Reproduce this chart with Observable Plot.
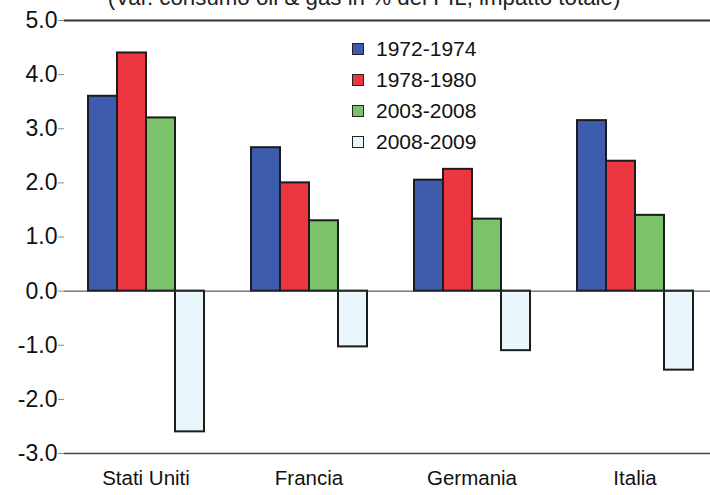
<!DOCTYPE html>
<html>
<head>
<meta charset="utf-8">
<script src="https://cdn.jsdelivr.net/npm/d3@7"></script>
<script src="https://cdn.jsdelivr.net/npm/@observablehq/plot@0.6"></script>
<style>
  html, body { margin: 0; padding: 0; background: #fff; }
  body { width: 710px; height: 495px; overflow: hidden; position: relative;
         font-family: "Liberation Sans", Arial, sans-serif; }
  #title { position: absolute; left: 9px; top: -13px; width: 710px; text-align: center;
           font-size: 22.3px; line-height: 22px; color: #222; white-space: nowrap; }
  #legend { position: absolute; left: 352px; top: 33px; font-size: 21px; color: #111; }
  #legend .item { height: 31px; display: flex; align-items: center; }
  #legend .sw { width: 10px; height: 10px; border: 1.5px solid #222; margin-right: 12px; }
  #chart { position: absolute; left: 0; top: 0; width: 720px; }
  #chart svg { max-width: none; }
</style>
</head>
<body>
<div id="chart"></div>
<div id="title">(Var. consumo oil &amp; gas in % del PIL, impatto totale)</div>
<div id="legend"></div>
<script>
// Paesi e periodi
const countries = ["Stati Uniti", "Francia", "Germania", "Italia"];
const periods = ["1972-1974", "1978-1980", "2003-2008", "2008-2009"];

// Valori per periodo (uno per paese, nell'ordine di countries)
const v1972_1974 = [3.6, 2.65, 2.05, 3.15];
const v1978_1980 = [4.4, 2.0, 2.25, 2.4];
const v2003_2008 = [3.2, 1.3, 1.33, 1.4];
const v2008_2009 = [-2.6, -1.03, -1.1, -1.46];

// Tacche dell'asse y
const yTicks = [-3, -2, -1, 0, 1, 2, 3, 4, 5];

const colors = ["#3d5cae", "#ec3641", "#7bc36a", "#e9f6fc"];

const series = [v1972_1974, v1978_1980, v2003_2008, v2008_2009];
const rows = [];
countries.forEach((c, i) => {
  periods.forEach((p, j) => rows.push({country: c, period: p, value: series[j][i]}));
});

const plot = Plot.plot({
  width: 720,
  height: 495,
  marginLeft: 63,
  marginRight: 3,
  marginTop: 20,
  marginBottom: 42,
  style: {fontFamily: "'Liberation Sans', Arial, sans-serif", fontSize: "21px", color: "#111", background: "transparent", maxWidth: "none"},
  fx: {domain: countries, paddingInner: 0, paddingOuter: 0, label: null},
  x: {domain: periods, paddingInner: 0, paddingOuter: 0.75, axis: null},
  y: {domain: [-3, 5], axis: null},
  color: {domain: periods, range: colors},
  marks: [
    Plot.barY(rows, {fx: "country", x: "period", y: "value", fill: "period",
                     stroke: "#1c1c1c", strokeWidth: 2, inset: 0}),
    Plot.ruleY([0], {stroke: "#333", strokeWidth: 1}),
    Plot.ruleY([5], {stroke: "#333", strokeWidth: 2}),
    Plot.ruleY([-3], {stroke: "#444", strokeWidth: 1.5}),
    Plot.axisY({ticks: yTicks, tickFormat: d => d.toFixed(1), tickSize: 6, tickPadding: 1,
                stroke: "#888", fill: "#111", fontSize: 23, line: true, label: null}),
    Plot.axisFx({anchor: "bottom", tickSize: 0, tickPadding: 17, fontSize: 20.5, fill: "#111", label: null})
  ]
});
document.getElementById("chart").appendChild(plot);

// Legenda
const legend = document.getElementById("legend");
periods.forEach((p, j) => {
  const item = document.createElement("div");
  item.className = "item";
  const sw = document.createElement("div");
  sw.className = "sw";
  sw.style.background = colors[j];
  item.appendChild(sw);
  item.appendChild(document.createTextNode(p));
  legend.appendChild(item);
});
</script>
</body>
</html>
